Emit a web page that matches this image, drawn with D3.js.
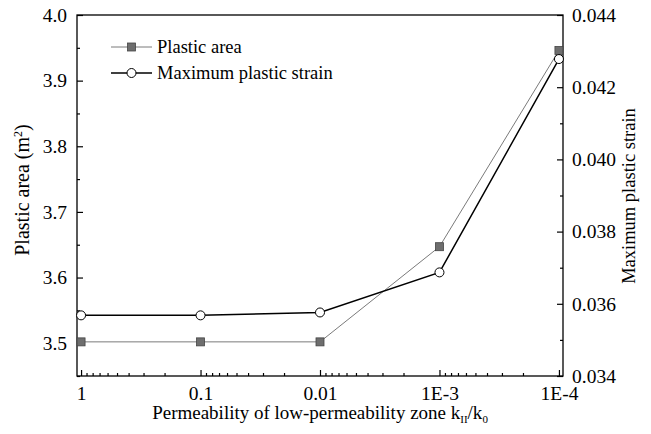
<!DOCTYPE html>
<html lang="en">
  <head>
    <meta charset="UTF-8" />
    <title>Plastic area vs permeability</title>
    <script src="https://d3js.org/d3.v7.min.js"></script>
    <style>
      body {
        margin: 0;
        background: #fff;
      }
      svg {
        display: block;
      }
    </style>
  </head>
  <body>
    <svg width="651" height="434"></svg>

    <script>
      // permeability ratios k_II/k_0
      const ratios = [1, 0.1, 0.01, 1e-3, 1e-4];
      const ratioLabels = ["1", "0.1", "0.01", "1E-3", "1E-4"];
      const plasticArea = [3.502, 3.502, 3.502, 3.647, 3.946];
      const maxStrain = [0.03568, 0.03568, 0.03576, 0.03687, 0.04278];
      const leftTicks = [3.5, 3.6, 3.7, 3.8, 3.9, 4.0];
      const rightTicks = [0.034, 0.036, 0.038, 0.04, 0.042, 0.044];

      const FONT = "'Liberation Serif', 'Times New Roman', Times, serif";
      const svg = d3.select("svg");
      const margin = { top: 15, right: 88, bottom: 58, left: 77 };
      const width = 651;
      const height = 434;
      const x0 = margin.left,
        x1 = width - margin.right,
        y0 = height - margin.bottom,
        y1 = margin.top;

      // reversed log axis, a bit of padding past 1 and 1E-4
      const pad = 0.034;
      const x = d3
        .scaleLog()
        .domain([Math.pow(10, pad), Math.pow(10, -4 - pad)])
        .range([x0, x1]);

      const yL = d3.scaleLinear().domain([3.45, 4.0]).range([y0, y1]);
      const yR = d3.scaleLinear().domain([0.034, 0.044]).range([y0, y1]);

      // frame
      svg
        .append("rect")
        .attr("x", x0)
        .attr("y", y1)
        .attr("width", x1 - x0)
        .attr("height", y0 - y1)
        .attr("fill", "none")
        .attr("stroke", "#000")
        .attr("stroke-width", 1.3);

      const tickStyle = (g) => {
        g.attr("font-family", FONT).attr("font-size", 19.5);
        g.select(".domain").remove();
        g.selectAll("line").attr("stroke", "#000").attr("stroke-width", 1.2);
        g.selectAll("text").attr("fill", "#000");
      };

      // bottom axis: minor ticks
      const minors = [];
      for (let e = 0; e > -4; e--) {
        for (let m = 2; m <= 9; m++) minors.push(m * Math.pow(10, e - 1));
      }
      svg
        .append("g")
        .attr("transform", `translate(0,${y0})`)
        .call(d3.axisTop(x).tickValues(minors).tickSize(3).tickFormat(""))
        .call(tickStyle);
      svg
        .append("g")
        .attr("transform", `translate(0,${y0})`)
        .call(
          d3
            .axisBottom(x)
            .tickValues(ratios)
            .tickSizeInner(-6)
            .tickSizeOuter(0)
            .tickPadding(10)
            .tickFormat((d, i) => ratioLabels[i])
        )
        .call(tickStyle);

      // left axis
      const leftMinor = d3.range(3.45, 4.0, 0.1).map((v) => +v.toFixed(2));
      svg
        .append("g")
        .attr("transform", `translate(${x0},0)`)
        .call(d3.axisRight(yL).tickValues(leftMinor).tickSize(3).tickFormat(""))
        .call(tickStyle);
      svg
        .append("g")
        .attr("transform", `translate(${x0},0)`)
        .call(
          d3
            .axisLeft(yL)
            .tickValues(leftTicks)
            .tickSizeInner(-6)
            .tickSizeOuter(0)
            .tickPadding(10)
            .tickFormat(d3.format(".1f"))
        )
        .call(tickStyle);

      // right axis
      const rightMinor = [0.035, 0.037, 0.039, 0.041, 0.043];
      svg
        .append("g")
        .attr("transform", `translate(${x1},0)`)
        .call(d3.axisLeft(yR).tickValues(rightMinor).tickSize(3).tickFormat(""))
        .call(tickStyle);
      svg
        .append("g")
        .attr("transform", `translate(${x1},0)`)
        .call(
          d3
            .axisRight(yR)
            .tickValues(rightTicks)
            .tickSizeInner(-6)
            .tickSizeOuter(0)
            .tickPadding(9)
            .tickFormat(d3.format(".3f"))
        )
        .call(tickStyle);

      // series
      const areaData = ratios.map((r, i) => ({ r, v: plasticArea[i] }));
      const strainData = ratios.map((r, i) => ({ r, v: maxStrain[i] }));

      svg
        .append("path")
        .datum(areaData)
        .attr("fill", "none")
        .attr("stroke", "#7a7a7a")
        .attr("stroke-width", 1)
        .attr(
          "d",
          d3
            .line()
            .x((d) => x(d.r))
            .y((d) => yL(d.v))
        );

      svg
        .append("path")
        .datum(strainData)
        .attr("fill", "none")
        .attr("stroke", "#000")
        .attr("stroke-width", 1.5)
        .attr(
          "d",
          d3
            .line()
            .x((d) => x(d.r))
            .y((d) => yR(d.v))
        );

      const sq = 8;
      svg
        .selectAll(".sq")
        .data(areaData)
        .enter()
        .append("rect")
        .attr("class", "sq")
        .attr("x", (d) => x(d.r) - sq / 2)
        .attr("y", (d) => yL(d.v) - sq / 2)
        .attr("width", sq)
        .attr("height", sq)
        .attr("fill", "#6e6e6e")
        .attr("stroke", "#444")
        .attr("stroke-width", 0.8);

      svg
        .selectAll(".ci")
        .data(strainData)
        .enter()
        .append("circle")
        .attr("class", "ci")
        .attr("cx", (d) => x(d.r))
        .attr("cy", (d) => yR(d.v))
        .attr("r", 4.5)
        .attr("fill", "#fff")
        .attr("stroke", "#000")
        .attr("stroke-width", 1);

      // legend
      const lg = svg
        .append("g")
        .attr("transform", "translate(111,47)")
        .attr("font-family", FONT)
        .attr("font-size", 18.5);
      lg.append("line")
        .attr("x1", 0)
        .attr("x2", 41)
        .attr("y1", 0)
        .attr("y2", 0)
        .attr("stroke", "#7a7a7a")
        .attr("stroke-width", 1);
      lg.append("rect")
        .attr("x", 20.5 - sq / 2)
        .attr("y", -sq / 2)
        .attr("width", sq)
        .attr("height", sq)
        .attr("fill", "#6e6e6e")
        .attr("stroke", "#444")
        .attr("stroke-width", 0.8);
      lg.append("text").attr("x", 46).attr("y", 6).text("Plastic area");
      lg.append("line")
        .attr("x1", 0)
        .attr("x2", 41)
        .attr("y1", 26)
        .attr("y2", 26)
        .attr("stroke", "#000")
        .attr("stroke-width", 1.5);
      lg.append("circle")
        .attr("cx", 20.5)
        .attr("cy", 26)
        .attr("r", 4.5)
        .attr("fill", "#fff")
        .attr("stroke", "#000");
      lg.append("text").attr("x", 46).attr("y", 32).text("Maximum plastic strain");

      // axis titles
      const xt = svg
        .append("text")
        .attr("x", 320)
        .attr("y", 419)
        .attr("text-anchor", "middle")
        .attr("font-family", FONT)
        .attr("font-size", 19);
      xt.append("tspan").text("Permeability of low-permeability zone k");
      xt.append("tspan").attr("dy", 4).attr("font-size", 11).text("II");
      xt.append("tspan").attr("dy", -4).text("/k");
      xt.append("tspan").attr("dy", 4).attr("font-size", 11).text("0");

      const yt = svg
        .append("text")
        .attr("transform", `translate(29,190) rotate(-90)`)
        .attr("text-anchor", "middle")
        .attr("font-family", FONT)
        .attr("font-size", 20);
      yt.append("tspan").text("Plastic area (m");
      yt.append("tspan").attr("dy", -7).attr("font-size", 12).text("2");
      yt.append("tspan").attr("dy", 7).text(")");

      svg
        .append("text")
        .attr("transform", `translate(635,196) rotate(-90)`)
        .attr("text-anchor", "middle")
        .attr("font-family", FONT)
        .attr("font-size", 18.5)
        .text("Maximum plastic strain");
    </script>
  </body>
</html>
